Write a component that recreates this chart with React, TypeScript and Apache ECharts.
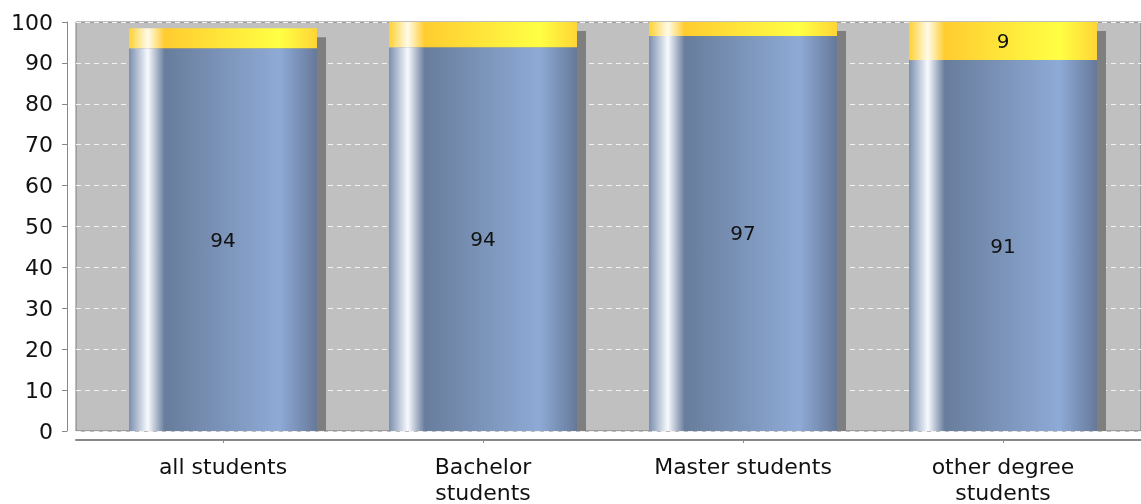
import React, { useEffect, useRef } from "react";
import * as echarts from "echarts";

const categories = ["all students", "Bachelor\nstudents", "Master students", "other degree\nstudents"];
const blueValues = [93.6, 93.8, 96.6, 90.7];
const yellowValues = [4.9, 6.2, 3.4, 9.3];
const yTicks = { min: 0, max: 100, interval: 10 };

const FONT = "DejaVu Sans";
const BAR_W = 188;

export default function App() {
  const ref = useRef<HTMLDivElement>(null);
  useEffect(() => {
    if (!ref.current) return;
    const chart = echarts.init(ref.current, undefined, { renderer: "svg" });
    const totals = blueValues.map((v, i) => [i, v + yellowValues[i]]);
    const blueGrad = new echarts.graphic.LinearGradient(0, 0, 1, 0, [
      { offset: 0, color: "#7a8fae" },
      { offset: 0.1, color: "#f8faff" },
      { offset: 0.19, color: "#687d9c" },
      { offset: 0.8, color: "#8eaad6" },
      { offset: 1, color: "#66799a" },
    ]);
    const yellowGrad = new echarts.graphic.LinearGradient(0, 0, 1, 0, [
      { offset: 0, color: "#ffd030" },
      { offset: 0.1, color: "#fffbea" },
      { offset: 0.19, color: "#ffcc30" },
      { offset: 0.8, color: "#ffff44" },
      { offset: 1, color: "#ffd535" },
    ]);
    chart.setOption({
      animation: false,
      grid: [
        { left: 76, right: 0, top: 22, bottom: 73, outerBoundsMode: "none", containLabel: false, show: true, backgroundColor: "#c0c0c0", borderColor: "#7a7a7a", borderWidth: 1 },
        { left: 93, right: 8, top: 22, bottom: 73, outerBoundsMode: "none", containLabel: false },
      ],
      xAxis: [
        {
          type: "category", gridIndex: 0, data: categories, offset: 9,
          axisLine: { show: true, onZero: false, lineStyle: { color: "#888", width: 2 } },
          axisTick: { show: false }, axisLabel: { show: false }, splitLine: { show: false },
        },
        {
          type: "category", gridIndex: 1, data: categories, offset: 9,
          axisLine: { show: false, onZero: false },
          axisTick: { show: true, alignWithLabel: true, length: 3, lineStyle: { color: "#888" } },
          axisLabel: { show: true, fontFamily: FONT, fontSize: 22, color: "#111", lineHeight: 26, margin: 13 },
          splitLine: { show: false },
        },
      ],
      yAxis: [
        {
          type: "value", gridIndex: 0, ...yTicks, offset: 9,
          axisLine: { show: true, onZero: false, lineStyle: { color: "#888" } },
          axisTick: { show: true, length: 5, lineStyle: { color: "#888" } },
          axisLabel: { fontFamily: FONT, fontSize: 22, color: "#111", margin: 14 },
          splitLine: { show: true, lineStyle: { color: "#f2f2f2", type: [5, 4], width: 1 } },
        },
        { type: "value", gridIndex: 1, ...yTicks, show: false, splitLine: { show: false } },
      ],
      series: [
        {
          type: "custom", xAxisIndex: 1, yAxisIndex: 1, data: totals, clip: true, z: 1,
          renderItem: (params: any, api: any) => {
            const top = api.coord([api.value(0), api.value(1)]);
            const base = api.coord([api.value(0), 0]);
            const y = top[1] + 9;
            return {
              type: "rect",
              shape: { x: top[0] - BAR_W / 2 + 9, y, width: BAR_W, height: Math.max(0, base[1] - y) },
              style: { fill: "#7f7f7f" },
            };
          },
        },
        {
          type: "bar", xAxisIndex: 1, yAxisIndex: 1, stack: "s", data: blueValues, barWidth: BAR_W, z: 2,
          itemStyle: { color: blueGrad },
          label: {
            show: true, position: "inside", fontFamily: FONT, fontSize: 20, color: "#111",
            formatter: (p: any) => String(Math.round(p.value)),
          },
        },
        {
          type: "bar", xAxisIndex: 1, yAxisIndex: 1, stack: "s", barWidth: BAR_W, z: 2,
          data: yellowValues.map((v) => ({ value: v, label: { show: v >= 8 } })),
          itemStyle: { color: yellowGrad },
          label: {
            position: "inside", fontFamily: FONT, fontSize: 20, color: "#111",
            formatter: (p: any) => String(Math.round(p.value)),
          },
        },
      ],
    });
    return () => chart.dispose();
  }, []);
  return <div ref={ref} style={{ position: "fixed", left: 0, top: 0, width: 1141, height: 504 }} />;
}
